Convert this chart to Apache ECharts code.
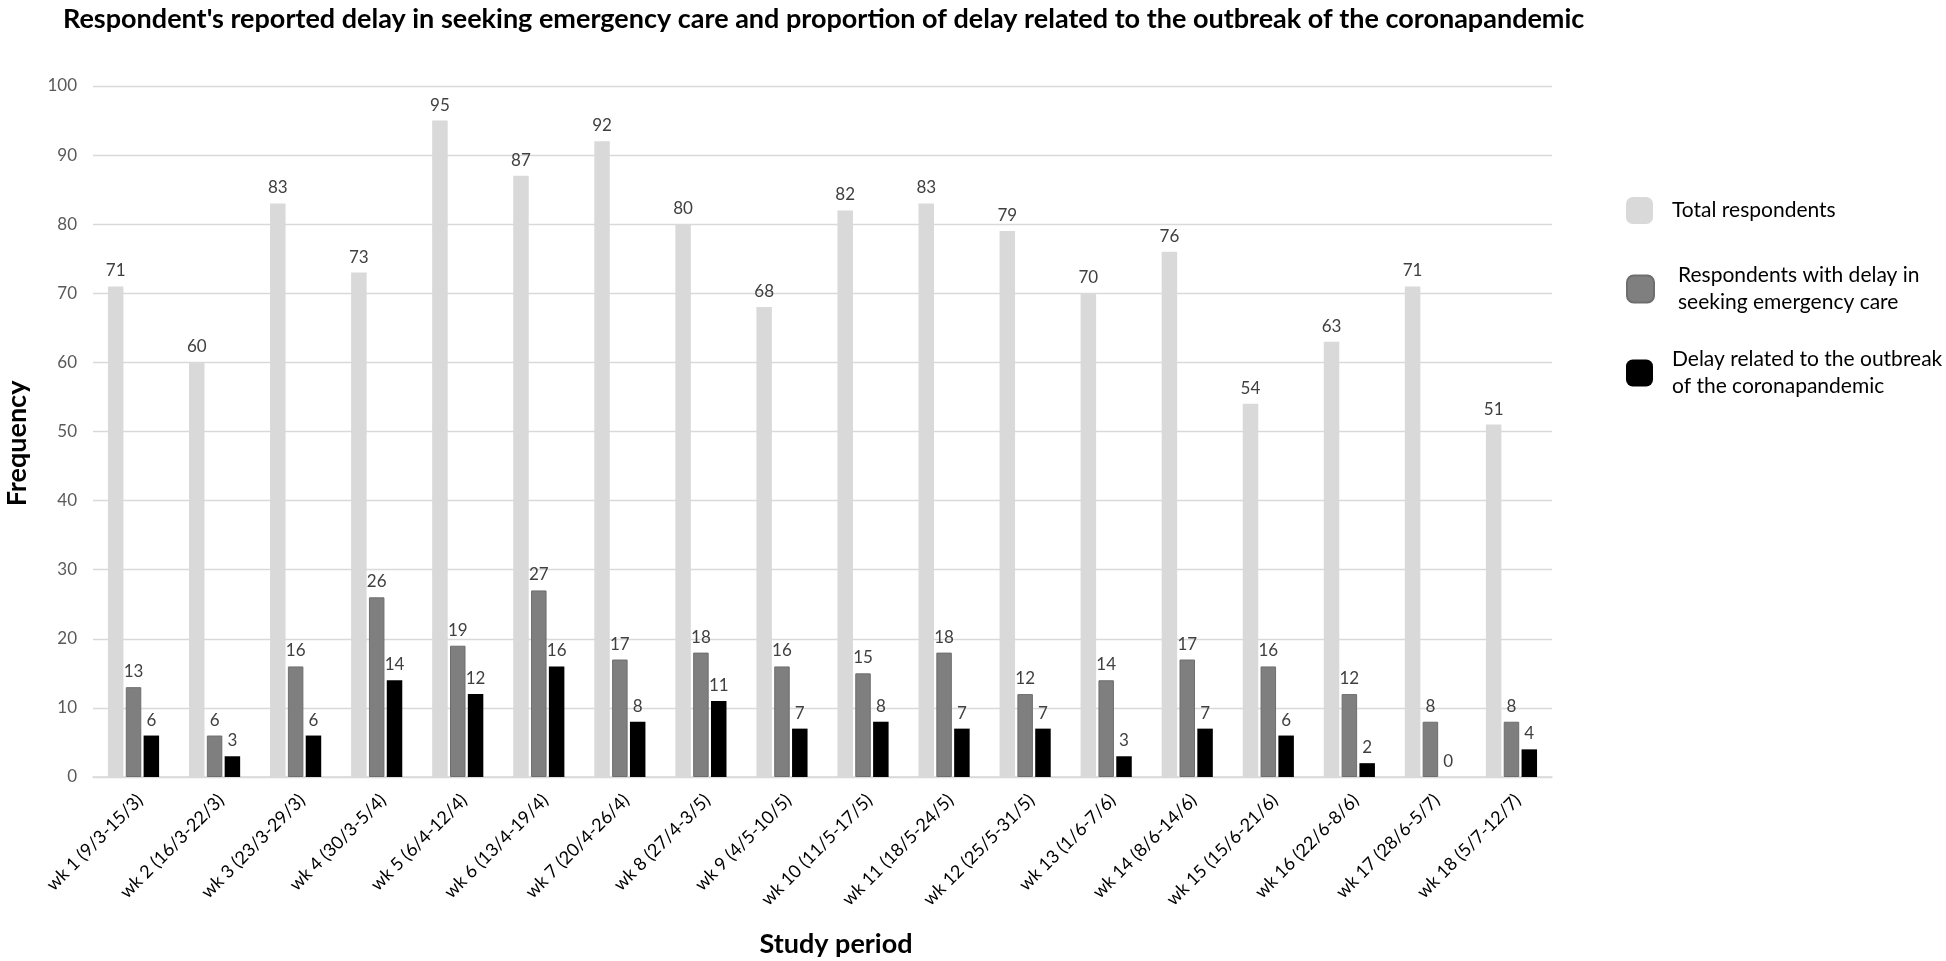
<!DOCTYPE html>
<html>
<head>
<meta charset="utf-8">
<script src="https://cdn.jsdelivr.net/npm/echarts@6/dist/echarts.min.js"></script>
<style>html,body{margin:0;padding:0;background:#fff}#c{width:1946px;height:961px}</style>
</head>
<body>
<div id="c"></div>
<script>
const categories = [
  'wk 1 (9/3-15/3)', 'wk 2 (16/3-22/3)', 'wk 3 (23/3-29/3)', 'wk 4 (30/3-5/4)',
  'wk 5 (6/4-12/4)', 'wk 6 (13/4-19/4)', 'wk 7 (20/4-26/4)', 'wk 8 (27/4-3/5)',
  'wk 9 (4/5-10/5)', 'wk 10 (11/5-17/5)', 'wk 11 (18/5-24/5)', 'wk 12 (25/5-31/5)',
  'wk 13 (1/6-7/6)', 'wk 14 (8/6-14/6)', 'wk 15 (15/6-21/6)', 'wk 16 (22/6-8/6)',
  'wk 17 (28/6-5/7)', 'wk 18 (5/7-12/7)'
];
const totalRespondents = [71, 60, 83, 73, 95, 87, 92, 80, 68, 82, 83, 79, 70, 76, 54, 63, 71, 51];
const delayedRespondents = [13, 6, 16, 26, 19, 27, 17, 18, 16, 15, 18, 12, 14, 17, 16, 12, 8, 8];
const coronaDelay = [6, 3, 6, 14, 12, 16, 8, 11, 7, 8, 7, 7, 3, 7, 6, 2, 0, 4];
const seriesNames = [
  'Total respondents',
  'Respondents with delay in\nseeking emergency care',
  'Delay related to the outbreak\nof the coronapandemic'
];
const yTicks = { min: 0, max: 100, interval: 10 };

const FONT = 'Lato';
const chart = echarts.init(document.getElementById('c'), null, { renderer: 'canvas' });

const labelStyle = {
  show: true, position: 'top', distance: 7,
  color: '#404040', fontFamily: FONT, fontSize: 17
};

function legendFor(name, top, textPadLeft) {
  return {
    data: [{ name: name, icon: 'roundRect' }],
    orient: 'vertical', left: 1626, top: top, padding: 0,
    itemWidth: 27, itemHeight: 27,
    textStyle: { fontFamily: FONT, fontSize: 21, color: '#000', lineHeight: 27, padding: [0, 0, 0, textPadLeft] }
  };
}

chart.setOption({
  animation: false,
  backgroundColor: '#fff',
  title: {
    text: "Respondent's reported delay in seeking emergency care and proportion of delay related to the outbreak of the coronapandemic",
    left: 58, top: 1,
    textStyle: { fontFamily: FONT, fontWeight: 'bold', fontSize: 27, color: '#000' }
  },
  legend: [
    legendFor(seriesNames[0], 197, 14),
    legendFor(seriesNames[1], 262, 19),
    legendFor(seriesNames[2], 346, 14)
  ],
  grid: { left: 93, right: 394, top: 86, bottom: 184, containLabel: false, outerBoundsMode: 'none' },
  xAxis: {
    type: 'category', data: categories,
    name: 'Study period', nameLocation: 'middle', nameGap: 154,
    nameTextStyle: { fontFamily: FONT, fontWeight: 'bold', fontSize: 27, color: '#000', padding: [0, 0, 0, 27] },
    axisLine: { lineStyle: { color: '#d9d9d9', width: 1.5 } },
    axisTick: { show: false },
    axisLabel: { rotate: 45, interval: 0, margin: 14, verticalAlign: 'top', fontFamily: FONT, fontSize: 18, color: '#000' }
  },
  yAxis: {
    type: 'value', min: yTicks.min, max: yTicks.max, interval: yTicks.interval,
    name: 'Frequency', nameLocation: 'middle', nameGap: 62, nameRotate: 90,
    nameTextStyle: { fontFamily: FONT, fontWeight: 'bold', fontSize: 27, color: '#000', padding: [0, 24, 0, 0] },
    axisLine: { show: false }, axisTick: { show: false },
    axisLabel: { margin: 16, fontFamily: FONT, fontSize: 17, color: '#595959' },
    splitLine: { lineStyle: { color: '#d9d9d9', width: 1.3 } }
  },
  series: [
    { name: seriesNames[0], type: 'bar', data: totalRespondents, barWidth: 15.5, barGap: '15%',
      itemStyle: { color: '#d9d9d9' }, label: labelStyle },
    { name: seriesNames[1], type: 'bar', data: delayedRespondents, barWidth: 15.5, barGap: '15%',
      itemStyle: { color: '#7f7f7f', borderColor: '#6e6e6e', borderWidth: 1 }, label: labelStyle },
    { name: seriesNames[2], type: 'bar', data: coronaDelay, barWidth: 15.5, barGap: '15%',
      itemStyle: { color: '#000000' }, label: labelStyle }
  ]
});
</script>
</body>
</html>
